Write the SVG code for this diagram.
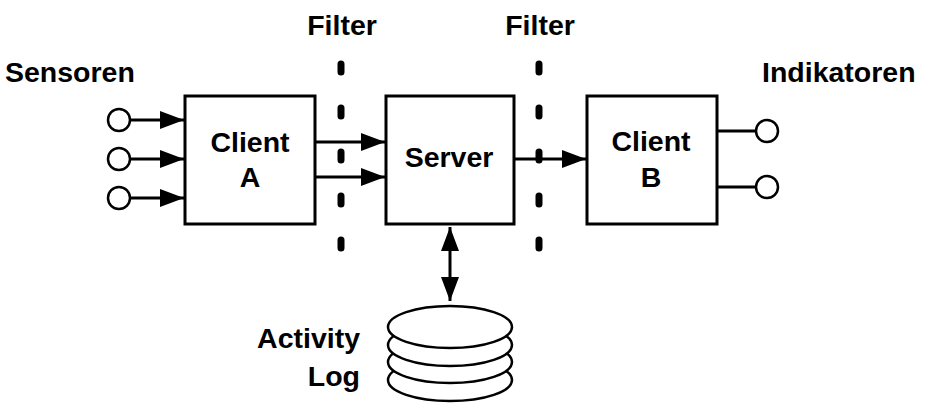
<svg xmlns="http://www.w3.org/2000/svg" width="929" height="414" viewBox="0 0 929 414">
<style>
.box{fill:#fff;stroke:#000;stroke-width:3}
.port{fill:#fff;stroke:#000;stroke-width:2.5}
.ln{stroke:#000;stroke-width:3;fill:none}
.filt{stroke:#000;stroke-width:7;stroke-linecap:round;stroke-dasharray:8 36;fill:none}
.disk{fill:#fff;stroke:#000;stroke-width:2.5}
text{font-family:"Liberation Sans",Arial,sans-serif;font-weight:bold;font-size:28.5px;fill:#000}
.c{text-anchor:middle}
</style>
<defs>
<marker id="ah" viewBox="0 0 24 18" refX="24" refY="9" markerWidth="24" markerHeight="18" markerUnits="userSpaceOnUse" orient="auto-start-reverse">
<path d="M0,0 L24,9 L0,18 Z" fill="#000"/>
</marker>
</defs>
<rect width="929" height="414" fill="#fff"/>
<g id="filter1">
<path class="filt" d="M341,64 V250"/>
<text class="c" x="342" y="35">Filter</text>
</g>
<g id="filter2">
<path class="filt" d="M539,64 V250"/>
<text class="c" x="540" y="35">Filter</text>
</g>
<g id="connectors">
<path class="ln" d="M130,120 H184" marker-end="url(#ah)"/>
<path class="ln" d="M130,159 H184" marker-end="url(#ah)"/>
<path class="ln" d="M130,198 H184" marker-end="url(#ah)"/>
<path class="ln" d="M315,142 H385" marker-end="url(#ah)"/>
<path class="ln" d="M315,177 H385" marker-end="url(#ah)"/>
<path class="ln" d="M514,159 H586" marker-end="url(#ah)"/>
<path class="ln" d="M717,131 H755"/>
<path class="ln" d="M717,187 H755"/>
<path class="ln" d="M450,227 V301" marker-start="url(#ah)" marker-end="url(#ah)"/>
</g>
<g id="sensoren">
<text x="5" y="82">Sensoren</text>
<circle class="port" cx="119" cy="120" r="11"/>
<circle class="port" cx="119" cy="159" r="11"/>
<circle class="port" cx="119" cy="198" r="11"/>
</g>
<g id="clientA">
<rect class="box" x="185" y="96" width="130" height="128"/>
<text class="c" x="250" y="152">Client</text>
<text class="c" x="250" y="187">A</text>
</g>
<g id="server">
<rect class="box" x="386" y="96" width="128" height="128"/>
<text class="c" x="449" y="167">Server</text>
</g>
<g id="clientB">
<rect class="box" x="587" y="96" width="130" height="128"/>
<text class="c" x="651" y="151">Client</text>
<text class="c" x="651" y="187">B</text>
</g>
<g id="indikatoren">
<text x="762" y="82">Indikatoren</text>
<circle class="port" cx="767" cy="131" r="11"/>
<circle class="port" cx="767" cy="187" r="11"/>
</g>
<g id="activityLog">
<ellipse class="disk" cx="450" cy="380" rx="62" ry="21"/>
<ellipse class="disk" cx="450" cy="362" rx="62" ry="21"/>
<ellipse class="disk" cx="450" cy="345" rx="62" ry="21"/>
<ellipse class="disk" cx="450" cy="327" rx="62" ry="21"/>
<text x="360" y="348" text-anchor="end">Activity</text>
<text x="360" y="386" text-anchor="end">Log</text>
</g>
</svg>
